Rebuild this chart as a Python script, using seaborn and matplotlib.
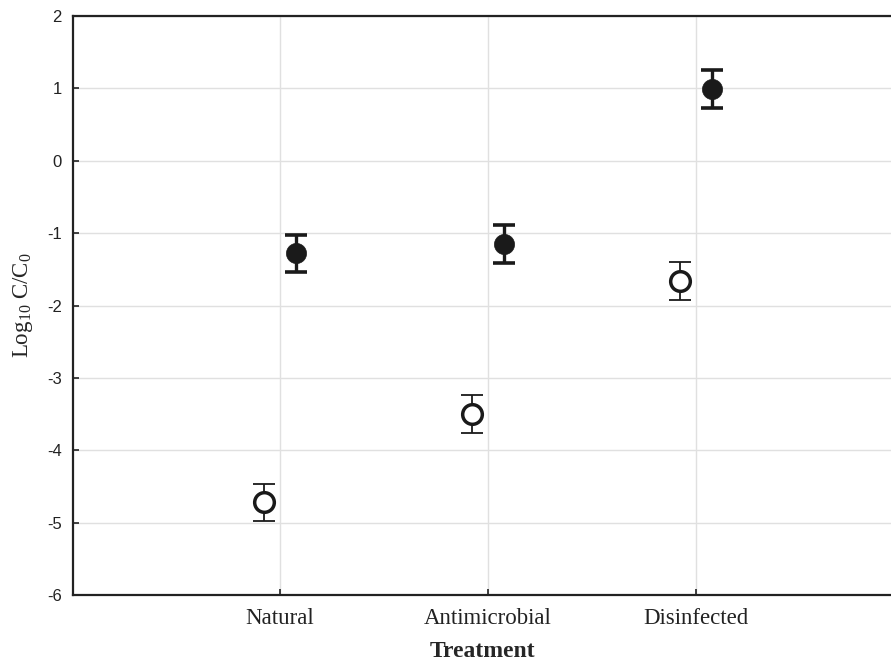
import numpy as np
import pandas as pd
import matplotlib
matplotlib.use("Agg")
import matplotlib.pyplot as plt
import seaborn as sns

categories = ["Natural", "Antimicrobial", "Disinfected"]
open_values = [-4.72, -3.50, -1.66]
open_err = [0.26, 0.26, 0.26]
filled_values = [-1.28, -1.15, 0.99]
filled_err = [0.26, 0.26, 0.26]
y_ticks = [-6, -5, -4, -3, -2, -1, 0, 1, 2]

sns.set_theme(style="white")
plt.rcParams["mathtext.fontset"] = "custom"
plt.rcParams["mathtext.rm"] = "Liberation Serif"
plt.rcParams["mathtext.it"] = "Liberation Serif:italic"

fig = plt.figure(figsize=(8.91, 6.68), dpi=100)
ax = fig.add_axes([73 / 891, 1 - 595 / 668, 1 - 73 / 891, (595 - 16) / 668])

xpos = np.arange(len(categories))
dodge = 0.077
df_open = pd.DataFrame({"x": xpos - dodge, "y": open_values})
df_filled = pd.DataFrame({"x": xpos + dodge, "y": filled_values})

ax.errorbar(df_open["x"], df_open["y"], yerr=open_err, fmt="none",
            ecolor="#1a1a1a", elinewidth=1.3, capsize=8, capthick=1.3, zorder=3)
ax.errorbar(df_filled["x"], df_filled["y"], yerr=filled_err, fmt="none",
            ecolor="#1a1a1a", elinewidth=2.4, capsize=8, capthick=2.6, zorder=3)
sns.scatterplot(data=df_open, x="x", y="y", ax=ax, marker="o", s=200,
                facecolor="white", edgecolor="#1a1a1a", linewidth=2.5, zorder=4)
sns.scatterplot(data=df_filled, x="x", y="y", ax=ax, marker="o", s=210,
                color="#1a1a1a", edgecolor="#1a1a1a", linewidth=0.5, zorder=4)

ax.set_xlim(-0.995, 2.94)
ax.set_ylim(-6, 2)
ax.set_xticks(xpos)
ax.set_xticklabels(categories, family="Liberation Serif", fontsize=16.5)
ax.set_yticks(y_ticks)
ax.set_yticklabels([str(v) for v in y_ticks], family="Liberation Sans", fontsize=12)
ax.grid(True, color="#e0e0e0", linewidth=1.0)
ax.set_axisbelow(True)
ax.tick_params(axis="both", direction="in", length=4, width=1.2, color="#222222",
               colors="#222222", bottom=True, left=True)
ax.tick_params(axis="x", pad=9)
ax.tick_params(axis="y", pad=8)
for s in ["left", "top", "bottom"]:
    ax.spines[s].set_color("#222222")
    ax.spines[s].set_linewidth(1.6)
ax.spines["right"].set_visible(False)

ax.set_xlabel("Treatment", family="Liberation Serif", fontweight="bold", fontsize=17, labelpad=9)
ax.set_ylabel(r"Log$_{10}$ C/C$_0$", family="Liberation Serif", fontsize=16.5, labelpad=9)

fig.savefig("out.png", dpi=100)
